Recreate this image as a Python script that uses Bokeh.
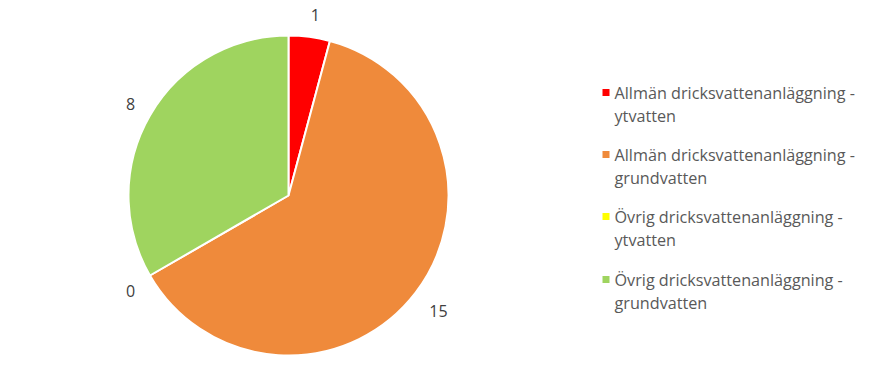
import numpy as np
from bokeh.plotting import figure
from bokeh.embed import file_html
from bokeh.resources import INLINE
from bokeh.models import ColumnDataSource, Range1d
from bokeh.core.properties import value

categories = ["Allmän dricksvattenanläggning - ytvatten",
              "Allmän dricksvattenanläggning - grundvatten",
              "Övrig dricksvattenanläggning - ytvatten",
              "Övrig dricksvattenanläggning - grundvatten"]
legend_line1 = ["Allmän dricksvattenanläggning -", "Allmän dricksvattenanläggning -",
                "Övrig dricksvattenanläggning -", "Övrig dricksvattenanläggning -"]
legend_line2 = ["ytvatten", "grundvatten", "ytvatten", "grundvatten"]
counts = [1, 15, 0, 8]
colors = ["#FF0000", "#EF8A3B", "#FFFF00", "#9FD45F"]

W, H = 858, 371
FONT = value("Open Sans")
p = figure(width=W, height=H, output_backend="svg", toolbar_location=None,
           x_range=Range1d(0, W), y_range=Range1d(0, H), min_border=0)
p.axis.visible = False
p.grid.visible = False
p.outline_line_color = None

cx, cy, r = 288, H - 195, 160
vals = np.array(counts, dtype=float)
frac = vals / vals.sum()
ends = np.pi / 2 - 2 * np.pi * np.cumsum(frac)
starts = np.concatenate([[np.pi / 2], ends[:-1]])
keep = vals > 0
src = ColumnDataSource(dict(start=ends[keep], end=starts[keep],
                            color=[c for c, k in zip(colors, keep) if k]))
p.wedge(x=cx, y=cy, radius=r, start_angle="start", end_angle="end",
        fill_color="color", line_color="white", line_width=2, source=src)

# data labels
mid = (starts + ends) / 2
lr = np.array([182, 189, 171, 171])
lx = cx + lr * np.cos(mid)
ly = cy + lr * np.sin(mid)
lx[0] += 3
lx[2], ly[2] = 130, H - 290
lx[3], ly[3] = 130, H - 103
p.text(x=lx, y=ly, text=[str(c) for c in counts], text_align="center",
       text_baseline="middle", text_font=FONT, text_font_size="16px",
       text_color="#404040")

# legend
ys = np.array([92, 154, 216, 279])
p.scatter(x=[605.5] * 4, y=H - ys, marker="square", size=7, fill_color=colors,
          line_color=None)
p.text(x=[614] * 4, y=H - ys, text=legend_line1, text_baseline="middle",
       text_font=FONT, text_font_size="16.2px", text_color="#595959")
p.text(x=[614] * 4, y=H - (ys + 23), text=legend_line2, text_baseline="middle",
       text_font=FONT, text_font_size="16.2px", text_color="#595959")

open("out.html", "w").write(file_html(p, INLINE))
